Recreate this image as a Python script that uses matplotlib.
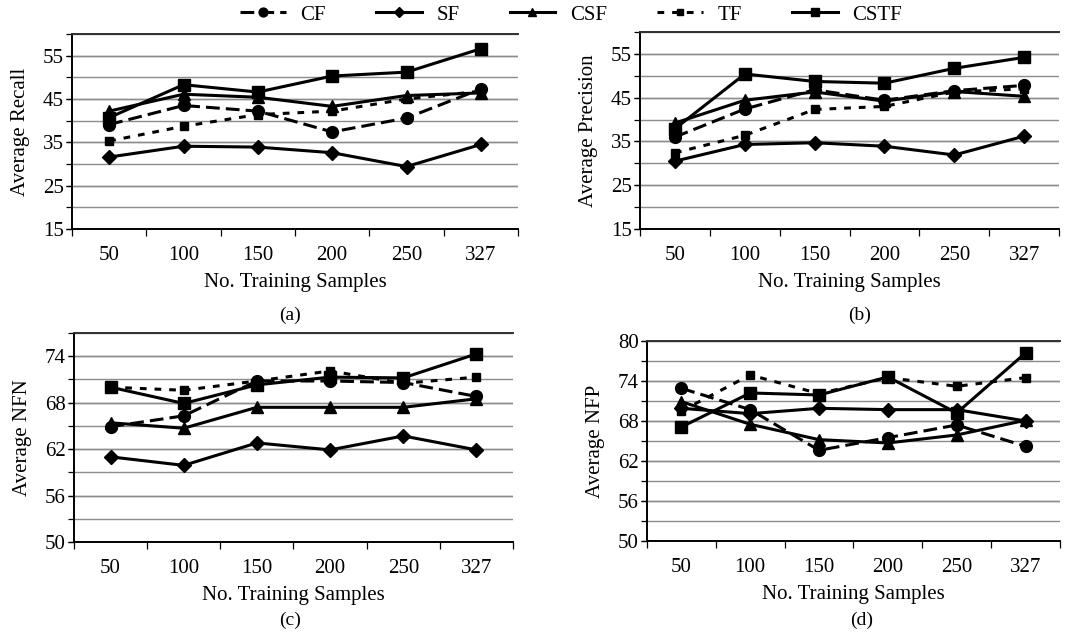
import numpy as np
import matplotlib
matplotlib.use("Agg")
import matplotlib.pyplot as plt
from matplotlib.ticker import FixedLocator

plt.rcParams['font.family'] = ['Liberation Serif', 'DejaVu Serif']
plt.rcParams['font.size'] = 14

samples = ['50', '100', '150', '200', '250', '327']
series = ['CF', 'SF', 'CSF', 'TF', 'CSTF']

# (a) average recall
recall_cf = [39.1, 43.5, 42.2, 37.4, 40.6, 47.3]
recall_sf = [31.6, 34.1, 33.9, 32.6, 29.4, 34.5]
recall_csf = [42.2, 46.1, 45.4, 43.3, 45.8, 46.4]
recall_tf = [35.3, 38.7, 41.4, 42.2, 45.0, 46.8]
recall_cstf = [40.7, 48.3, 46.6, 50.3, 51.2, 56.6]

# (b) average precision
prec_cf = [36.0, 42.4, 46.8, 44.4, 46.6, 47.8]
prec_sf = [30.5, 34.3, 34.7, 33.9, 31.9, 36.2]
prec_csf = [39.2, 44.4, 46.3, 44.2, 46.4, 45.3]
prec_tf = [32.4, 36.4, 42.3, 43.0, 46.3, 47.0]
prec_cstf = [37.9, 50.4, 48.7, 48.3, 51.7, 54.2]

# (c) average NFN
nfn_cf = [64.9, 66.3, 70.8, 70.8, 70.6, 68.8]
nfn_sf = [61.0, 59.9, 62.8, 61.9, 63.7, 61.9]
nfn_csf = [65.4, 64.7, 67.4, 67.4, 67.4, 68.5]
nfn_tf = [70.0, 69.6, 70.8, 72.1, 70.5, 71.3]
nfn_cstf = [70.0, 67.9, 70.3, 71.3, 71.2, 74.3]

# (d) average NFP
nfp_cf = [72.9, 69.7, 63.6, 65.5, 67.4, 64.2]
nfp_sf = [69.9, 69.1, 69.9, 69.7, 69.7, 68.0]
nfp_csf = [70.9, 67.5, 65.2, 64.7, 65.9, 68.1]
nfp_tf = [69.5, 74.9, 72.1, 74.5, 73.2, 74.5]
nfp_cstf = [67.1, 72.2, 71.9, 74.6, 69.2, 78.2]

styles = {
    'CF': dict(marker='o', ms=8.5, dashes=(4.5, 2)),
    'SF': dict(marker='D', ms=7, ls='-'),
    'CSF': dict(marker='^', ms=8.5, ls='-'),
    'TF': dict(marker='s', ms=5.5, dashes=(2.2, 2.6)),
    'CSTF': dict(marker='s', ms=8, ls='-'),
}

fig = plt.figure(figsize=(10.83, 6.32), dpi=100)

panels = [
    ([0.0665, 0.6377, 0.4118, 0.3085], [recall_cf, recall_sf, recall_csf, recall_tf, recall_cstf],
     'Average Recall', (15, 60), 10, 5, 15),
    ([0.591, 0.6377, 0.3869, 0.3117], [prec_cf, prec_sf, prec_csf, prec_tf, prec_cstf],
     'Average Precision', (15, 60), 10, 5, 15),
    ([0.0683, 0.1424, 0.4054, 0.3307], [nfn_cf, nfn_sf, nfn_csf, nfn_tf, nfn_cstf],
     'Average NFN', (50, 77), 6, 3, 50),
    ([0.5974, 0.144, 0.3813, 0.3165], [nfp_cf, nfp_sf, nfp_csf, nfp_tf, nfp_cstf],
     'Average NFP', (50, 80), 6, 3, 50),
]

x = np.arange(len(samples))
for rect, data, ylabel, ylim, major, minor, start in panels:
    ax = fig.add_axes(rect)
    for name, vals in zip(series, data):
        ax.plot(x, vals, color='black', lw=2.2, label=name, **styles[name])
    ax.set_xlim(-0.5, len(samples) - 0.5)
    ax.set_ylim(*ylim)
    ax.set_yticks(np.arange(start, ylim[1] + 0.1, major))
    ax.yaxis.set_minor_locator(FixedLocator(np.arange(ylim[0], ylim[1] + 0.1, minor)))
    ax.yaxis.remove_overlapping_locs = False
    ax.grid(True, which='both', axis='y', color='#8c8c8c', lw=1.0)
    ax.grid(False, axis='x', which='both')
    ax.set_axisbelow(True)
    ax.set_xticks(x)
    ax.set_xticklabels(samples)
    ax.xaxis.set_minor_locator(FixedLocator(np.arange(-0.5, len(samples), 1.0)))
    ax.tick_params(axis='x', which='major', length=0, pad=12, labelsize=15)
    ax.tick_params(axis='x', which='minor', length=5, width=0.9, direction='out')
    ax.tick_params(axis='y', which='both', length=4, width=0.9, direction='out', labelsize=15, pad=2)
    ax.set_ylabel(ylabel, fontsize=15, labelpad=9)
    ax.set_xlabel('No. Training Samples', fontsize=15, labelpad=6)
    for s in ['left', 'bottom']:
        ax.spines[s].set_linewidth(1.4)
    ax.spines['top'].set_color('#303030')
    ax.spines['top'].set_linewidth(1.4)
    ax.spines['right'].set_visible(False)
    handles, labels = ax.get_legend_handles_labels()

fig.text(290 / 1083, 1 - 315 / 632, '(a)', ha='center', va='center', fontsize=14)
fig.text(860 / 1083, 1 - 315 / 632, '(b)', ha='center', va='center', fontsize=14)
fig.text(290 / 1083, 1 - 620 / 632, '(c)', ha='center', va='center', fontsize=14)
fig.text(862 / 1083, 1 - 620 / 632, '(d)', ha='center', va='center', fontsize=14)

fig.legend(handles, labels, loc='center', bbox_to_anchor=(571 / 1083, 1 - 15 / 632), ncol=5,
           frameon=False, handlelength=2.2, columnspacing=2.4, handletextpad=0.7, fontsize=15,
           markerscale=0.75)

fig.savefig('out.png', dpi=100)
